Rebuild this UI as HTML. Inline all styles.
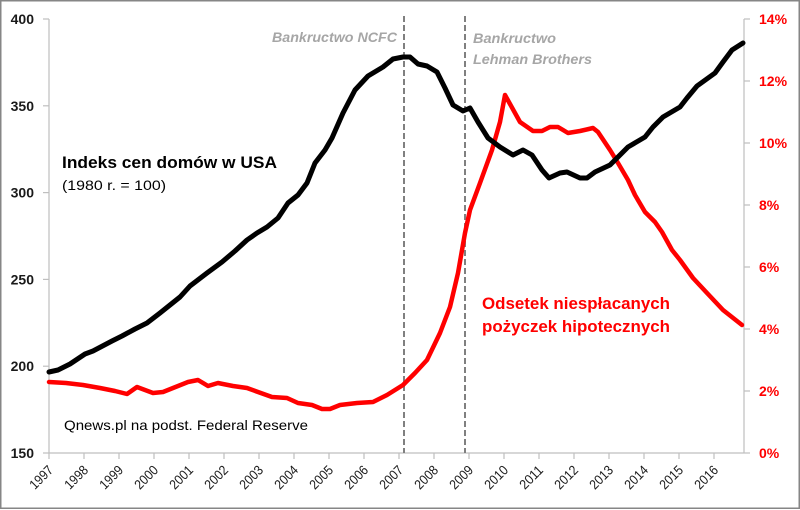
<!DOCTYPE html>
<html><head><meta charset="utf-8">
<style>
html,body{margin:0;padding:0;background:#fff;}
svg{display:block;}
text{font-family:"Liberation Sans",Arial,sans-serif;}
</style></head>
<body>
<svg width="800" height="510" viewBox="0 0 800 510" xmlns="http://www.w3.org/2000/svg">
<rect x="0" y="0" width="800" height="510" fill="#fff"/>
<rect x="0.75" y="0.75" width="798.5" height="507.5" fill="none" stroke="#868686" stroke-width="1.5"/>

<!-- axes -->
<g stroke="#BFBFBF" stroke-width="1.2" fill="none">
<line x1="49" y1="19" x2="49" y2="453"/>
<line x1="49" y1="453" x2="744" y2="453"/>
<line x1="744" y1="19" x2="744" y2="453"/>
<!-- left ticks -->
<line x1="43" y1="19" x2="49" y2="19"/>
<line x1="43" y1="105.8" x2="49" y2="105.8"/>
<line x1="43" y1="192.6" x2="49" y2="192.6"/>
<line x1="43" y1="279.4" x2="49" y2="279.4"/>
<line x1="43" y1="366.2" x2="49" y2="366.2"/>
<line x1="43" y1="453" x2="49" y2="453"/>
<!-- right ticks -->
<line x1="744" y1="19" x2="750" y2="19"/>
<line x1="744" y1="81" x2="750" y2="81"/>
<line x1="744" y1="143" x2="750" y2="143"/>
<line x1="744" y1="205" x2="750" y2="205"/>
<line x1="744" y1="267" x2="750" y2="267"/>
<line x1="744" y1="329" x2="750" y2="329"/>
<line x1="744" y1="391" x2="750" y2="391"/>
<line x1="744" y1="453" x2="750" y2="453"/>
<!-- x ticks -->
<line x1="49" y1="453" x2="49" y2="459"/>
<line x1="84" y1="453" x2="84" y2="459"/>
<line x1="119" y1="453" x2="119" y2="459"/>
<line x1="154" y1="453" x2="154" y2="459"/>
<line x1="189" y1="453" x2="189" y2="459"/>
<line x1="224" y1="453" x2="224" y2="459"/>
<line x1="259" y1="453" x2="259" y2="459"/>
<line x1="294" y1="453" x2="294" y2="459"/>
<line x1="329" y1="453" x2="329" y2="459"/>
<line x1="364" y1="453" x2="364" y2="459"/>
<line x1="399" y1="453" x2="399" y2="459"/>
<line x1="434" y1="453" x2="434" y2="459"/>
<line x1="469" y1="453" x2="469" y2="459"/>
<line x1="504" y1="453" x2="504" y2="459"/>
<line x1="539" y1="453" x2="539" y2="459"/>
<line x1="574" y1="453" x2="574" y2="459"/>
<line x1="609" y1="453" x2="609" y2="459"/>
<line x1="644" y1="453" x2="644" y2="459"/>
<line x1="679" y1="453" x2="679" y2="459"/>
<line x1="714" y1="453" x2="714" y2="459"/>
</g>

<!-- left labels -->
<g font-size="14" font-weight="bold" fill="#1a1a1a" text-anchor="end">
<text x="34" y="24">400</text>
<text x="34" y="110.8">350</text>
<text x="34" y="197.6">300</text>
<text x="34" y="284.4">250</text>
<text x="34" y="371.2">200</text>
<text x="34" y="458">150</text>
</g>
<!-- right labels -->
<g font-size="14" font-weight="bold" fill="#FF0000" text-anchor="start">
<text x="759" y="24">14%</text>
<text x="759" y="86">12%</text>
<text x="759" y="148">10%</text>
<text x="759" y="210">8%</text>
<text x="759" y="272">6%</text>
<text x="759" y="334">4%</text>
<text x="759" y="396">2%</text>
<text x="759" y="458">0%</text>
</g>

<!-- x labels -->
<g font-size="13.5" fill="#1a1a1a" text-anchor="end">
<text transform="translate(54,471) rotate(-45)" textLength="27" lengthAdjust="spacingAndGlyphs">1997</text>
<text transform="translate(89,471) rotate(-45)" textLength="27" lengthAdjust="spacingAndGlyphs">1998</text>
<text transform="translate(124,471) rotate(-45)" textLength="27" lengthAdjust="spacingAndGlyphs">1999</text>
<text transform="translate(159,471) rotate(-45)" textLength="27" lengthAdjust="spacingAndGlyphs">2000</text>
<text transform="translate(194,471) rotate(-45)" textLength="27" lengthAdjust="spacingAndGlyphs">2001</text>
<text transform="translate(229,471) rotate(-45)" textLength="27" lengthAdjust="spacingAndGlyphs">2002</text>
<text transform="translate(264,471) rotate(-45)" textLength="27" lengthAdjust="spacingAndGlyphs">2003</text>
<text transform="translate(299,471) rotate(-45)" textLength="27" lengthAdjust="spacingAndGlyphs">2004</text>
<text transform="translate(334,471) rotate(-45)" textLength="27" lengthAdjust="spacingAndGlyphs">2005</text>
<text transform="translate(369,471) rotate(-45)" textLength="27" lengthAdjust="spacingAndGlyphs">2006</text>
<text transform="translate(404,471) rotate(-45)" textLength="27" lengthAdjust="spacingAndGlyphs">2007</text>
<text transform="translate(439,471) rotate(-45)" textLength="27" lengthAdjust="spacingAndGlyphs">2008</text>
<text transform="translate(474,471) rotate(-45)" textLength="27" lengthAdjust="spacingAndGlyphs">2009</text>
<text transform="translate(509,471) rotate(-45)" textLength="27" lengthAdjust="spacingAndGlyphs">2010</text>
<text transform="translate(544,471) rotate(-45)" textLength="27" lengthAdjust="spacingAndGlyphs">2011</text>
<text transform="translate(579,471) rotate(-45)" textLength="27" lengthAdjust="spacingAndGlyphs">2012</text>
<text transform="translate(614,471) rotate(-45)" textLength="27" lengthAdjust="spacingAndGlyphs">2013</text>
<text transform="translate(649,471) rotate(-45)" textLength="27" lengthAdjust="spacingAndGlyphs">2014</text>
<text transform="translate(684,471) rotate(-45)" textLength="27" lengthAdjust="spacingAndGlyphs">2015</text>
<text transform="translate(719,471) rotate(-45)" textLength="27" lengthAdjust="spacingAndGlyphs">2016</text>
</g>

<!-- dashed event lines -->
<g stroke="#808080" stroke-width="2" stroke-dasharray="6,3" fill="none">
<line x1="404" y1="16" x2="404" y2="453"/>
<line x1="465" y1="16" x2="465" y2="453"/>
</g>

<!-- annotations -->
<g font-size="14" font-weight="bold" font-style="italic" fill="#A6A6A6">
<text x="272" y="42" textLength="125" lengthAdjust="spacingAndGlyphs">Bankructwo NCFC</text>
<text x="473" y="43" textLength="83" lengthAdjust="spacingAndGlyphs">Bankructwo</text>
<text x="473" y="64" textLength="119" lengthAdjust="spacingAndGlyphs">Lehman Brothers</text>
</g>

<text x="62" y="168" font-size="17" font-weight="bold" fill="#000" textLength="215" lengthAdjust="spacingAndGlyphs">Indeks cen domów w USA</text>
<text x="62" y="190" font-size="14" fill="#000" textLength="104" lengthAdjust="spacingAndGlyphs">(1980 r.  = 100)</text>
<text x="64" y="430" font-size="14" fill="#000" textLength="244" lengthAdjust="spacingAndGlyphs">Qnews.pl na podst. Federal Reserve</text>
<text x="482" y="309" font-size="17" font-weight="bold" fill="#FF0000" textLength="188" lengthAdjust="spacingAndGlyphs">Odsetek niespłacanych</text>
<text x="482" y="332" font-size="17" font-weight="bold" fill="#FF0000" textLength="188" lengthAdjust="spacingAndGlyphs">pożyczek hipotecznych</text>

<!-- red series -->
<polyline fill="none" stroke="#FF0000" stroke-width="4.5" stroke-linejoin="round" stroke-linecap="round"
points="49,382 66,383 83,385 100,388 115,391 127,394 137,387 153,393 163,392 173,388 188,382 198,380 208,386 218,383 233,386 247,388 258,392 272,397 287,398 298,403 312,405 322,409 330,409 340,405 357,403 373,402 387,395 403,385 415,373 427,360 440,333 450,307 458,273 465,233 470,210 480,183 492,150 500,122 505,95 520,122 533,131 542,131 550,127 558,127 568,133 580,131 593,128 598,132 610,150 618,163 628,180 635,195 645,212 655,222 662,232 672,250 680,260 693,278 707,293 723,310 742,325"/>

<!-- black series -->
<polyline fill="none" stroke="#000" stroke-width="5" stroke-linejoin="round" stroke-linecap="round"
points="49,372 58,370 70,364 85,354 93,351 112,341 122,336 135,329 147,323 160,313 170,305 180,297 190,286 207,273 222,262 235,251 247,240 257,233 267,227 278,218 288,203 298,195 307,183 315,163 325,150 332,138 343,113 355,90 368,76 383,67 393,59 403,57 410,57 418,64 427,66 437,72 445,88 453,105 463,111 470,108 478,122 488,138 500,147 513,155 523,150 532,155 542,170 549,178 560,173 567,172 580,178 587,178 595,172 610,165 617,158 628,147 645,137 653,127 663,117 680,107 687,98 697,86 715,73 723,62 732,50 743,43"/>
</svg>
</body></html>
